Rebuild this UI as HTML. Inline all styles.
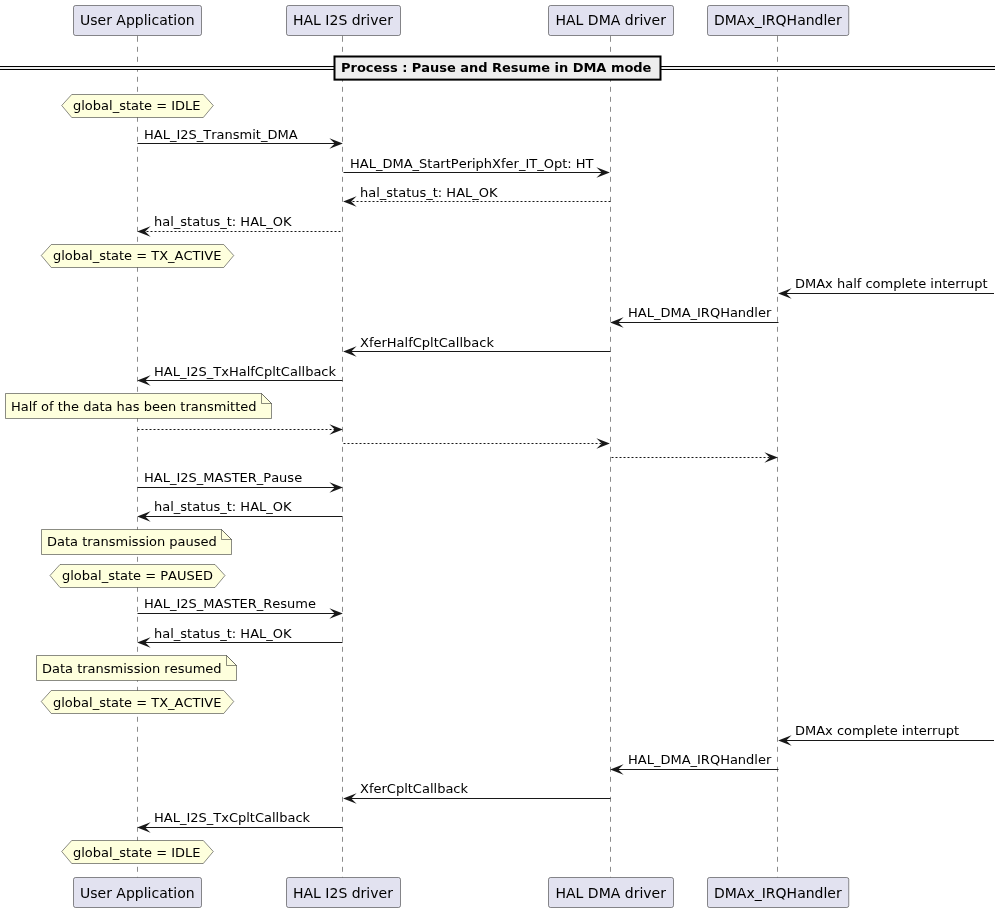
<!DOCTYPE html>
<html><head><meta charset="utf-8"><title>Pause and Resume in DMA mode</title>
<style>
html,body{margin:0;padding:0;background:#fff;}
svg{display:block;will-change:transform;}
svg text{font-family:"DejaVu Sans","Liberation Sans",sans-serif;fill:#000;font-kerning:none;}
</style></head><body>
<svg width="1000" height="912" viewBox="0 0 1000 912">
<rect width="1000" height="912" fill="#fff"/>
<g transform="translate(0.5,0.5)">
<line x1="137" y1="36.2969" x2="137" y2="877" stroke="#181818" stroke-width="0.5" stroke-dasharray="5,5"/>
<line x1="137" y1="35.3" x2="137" y2="36.2969" stroke="#181818" stroke-width="0.5"/>
<line x1="342" y1="36.2969" x2="342" y2="877" stroke="#181818" stroke-width="0.5" stroke-dasharray="5,5"/>
<line x1="342" y1="35.3" x2="342" y2="36.2969" stroke="#181818" stroke-width="0.5"/>
<line x1="610" y1="36.2969" x2="610" y2="877" stroke="#181818" stroke-width="0.5" stroke-dasharray="5,5"/>
<line x1="610" y1="35.3" x2="610" y2="36.2969" stroke="#181818" stroke-width="0.5"/>
<line x1="777" y1="36.2969" x2="777" y2="877" stroke="#181818" stroke-width="0.5" stroke-dasharray="5,5"/>
<line x1="777" y1="35.3" x2="777" y2="36.2969" stroke="#181818" stroke-width="0.5"/>
<rect x="73.0" y="5.0" width="128.00" height="30" rx="2" ry="2" fill="#E2E2F0" stroke="#181818" stroke-width="0.5"/>
<rect x="73.0" y="877" width="128.00" height="30" rx="2" ry="2" fill="#E2E2F0" stroke="#181818" stroke-width="0.5"/>
<rect x="286.0" y="5.0" width="114.00" height="30" rx="2" ry="2" fill="#E2E2F0" stroke="#181818" stroke-width="0.5"/>
<rect x="286.0" y="877" width="114.00" height="30" rx="2" ry="2" fill="#E2E2F0" stroke="#181818" stroke-width="0.5"/>
<rect x="548.0" y="5.0" width="125.00" height="30" rx="2" ry="2" fill="#E2E2F0" stroke="#181818" stroke-width="0.5"/>
<rect x="548.0" y="877" width="125.00" height="30" rx="2" ry="2" fill="#E2E2F0" stroke="#181818" stroke-width="0.5"/>
<rect x="707.0" y="5.0" width="141.25" height="30" rx="2" ry="2" fill="#E2E2F0" stroke="#181818" stroke-width="0.5"/>
<rect x="707.0" y="877" width="141.25" height="30" rx="2" ry="2" fill="#E2E2F0" stroke="#181818" stroke-width="0.5"/>
<rect x="-1" y="66.0" width="995.5" height="3" fill="#EEEEEE"/>
<line x1="-1" y1="66.0" x2="994.5" y2="66.0" stroke="#000" stroke-width="1"/>
<line x1="-1" y1="69.0" x2="994.5" y2="69.0" stroke="#000" stroke-width="1"/>
<rect x="334.0" y="56.0" width="326.00" height="23.13" fill="#EEEEEE" stroke="#000" stroke-width="2"/>
<polygon points="61.23,105.00 71.23,94 202.77,94 212.77,105.00 202.77,117.00 71.23,117.00" fill="#FEFFDD" stroke="#181818" stroke-width="0.5"/>
<polygon points="342.346,143.000 328.924,137.631 334.293,143.000 328.924,148.369" fill="#181818"/>
<line x1="137" y1="143" x2="337" y2="143" stroke="#181818" stroke-width="1"/>
<polygon points="609.346,172.000 595.924,166.631 601.293,172.000 595.924,177.369" fill="#181818"/>
<line x1="343" y1="172" x2="604" y2="172" stroke="#181818" stroke-width="1"/>
<polygon points="342.654,201.000 356.076,195.631 350.707,201.000 356.076,206.369" fill="#181818"/>
<line x1="348" y1="201" x2="610" y2="201" stroke="#181818" stroke-width="1" stroke-dasharray="2,2"/>
<polygon points="136.654,231.000 150.076,225.631 144.707,231.000 150.076,236.369" fill="#181818"/>
<line x1="142" y1="231" x2="342" y2="231" stroke="#181818" stroke-width="1" stroke-dasharray="2,2"/>
<polygon points="40.78,255.00 50.78,244 223.22,244 233.22,255.00 223.22,267.00 50.78,267.00" fill="#FEFFDD" stroke="#181818" stroke-width="0.5"/>
<polygon points="777.654,293.000 791.076,287.631 785.707,293.000 791.076,298.369" fill="#181818"/>
<line x1="783" y1="293" x2="993.5" y2="293" stroke="#181818" stroke-width="1"/>
<polygon points="609.654,322.000 623.076,316.631 617.707,322.000 623.076,327.369" fill="#181818"/>
<line x1="615" y1="322" x2="778" y2="322" stroke="#181818" stroke-width="1"/>
<polygon points="342.654,351.000 356.076,345.631 350.707,351.000 356.076,356.369" fill="#181818"/>
<line x1="348" y1="351" x2="610" y2="351" stroke="#181818" stroke-width="1"/>
<polygon points="136.654,380.000 150.076,374.631 144.707,380.000 150.076,385.369" fill="#181818"/>
<line x1="142" y1="380" x2="342" y2="380" stroke="#181818" stroke-width="1"/>
<path d="M5,393 L5,418 L271,418 L271,403 L261,393 Z" fill="#FEFFDD" stroke="#181818" stroke-width="0.5"/>
<path d="M261,393 L261,403 L271,403 Z" fill="#FEFFDD" stroke="#181818" stroke-width="0.5"/>
<polygon points="342.346,429.000 328.924,423.631 334.293,429.000 328.924,434.369" fill="#181818"/>
<line x1="137" y1="429" x2="337" y2="429" stroke="#181818" stroke-width="1" stroke-dasharray="2,2"/>
<polygon points="609.346,443.000 595.924,437.631 601.293,443.000 595.924,448.369" fill="#181818"/>
<line x1="343" y1="443" x2="604" y2="443" stroke="#181818" stroke-width="1" stroke-dasharray="2,2"/>
<polygon points="777.346,457.000 763.924,451.631 769.293,457.000 763.924,462.369" fill="#181818"/>
<line x1="611" y1="457" x2="772" y2="457" stroke="#181818" stroke-width="1" stroke-dasharray="2,2"/>
<polygon points="342.346,487.000 328.924,481.631 334.293,487.000 328.924,492.369" fill="#181818"/>
<line x1="137" y1="487" x2="337" y2="487" stroke="#181818" stroke-width="1"/>
<polygon points="136.654,516.000 150.076,510.631 144.707,516.000 150.076,521.369" fill="#181818"/>
<line x1="142" y1="516" x2="342" y2="516" stroke="#181818" stroke-width="1"/>
<path d="M41,529 L41,554 L231,554 L231,539 L221,529 Z" fill="#FEFFDD" stroke="#181818" stroke-width="0.5"/>
<path d="M221,529 L221,539 L231,539 Z" fill="#FEFFDD" stroke="#181818" stroke-width="0.5"/>
<polygon points="49.52,575.00 59.52,564 214.48,564 224.48,575.00 214.48,587.00 59.52,587.00" fill="#FEFFDD" stroke="#181818" stroke-width="0.5"/>
<polygon points="342.346,613.000 328.924,607.631 334.293,613.000 328.924,618.369" fill="#181818"/>
<line x1="137" y1="613" x2="337" y2="613" stroke="#181818" stroke-width="1"/>
<polygon points="136.654,642.000 150.076,636.631 144.707,642.000 150.076,647.369" fill="#181818"/>
<line x1="142" y1="642" x2="342" y2="642" stroke="#181818" stroke-width="1"/>
<path d="M36,655 L36,680 L236,680 L236,665 L226,655 Z" fill="#FEFFDD" stroke="#181818" stroke-width="0.5"/>
<path d="M226,655 L226,665 L236,665 Z" fill="#FEFFDD" stroke="#181818" stroke-width="0.5"/>
<polygon points="40.78,701.00 50.78,690 223.22,690 233.22,701.00 223.22,713.00 50.78,713.00" fill="#FEFFDD" stroke="#181818" stroke-width="0.5"/>
<polygon points="777.654,740.000 791.076,734.631 785.707,740.000 791.076,745.369" fill="#181818"/>
<line x1="783" y1="740" x2="993.5" y2="740" stroke="#181818" stroke-width="1"/>
<polygon points="609.654,769.000 623.076,763.631 617.707,769.000 623.076,774.369" fill="#181818"/>
<line x1="615" y1="769" x2="778" y2="769" stroke="#181818" stroke-width="1"/>
<polygon points="342.654,798.000 356.076,792.631 350.707,798.000 356.076,803.369" fill="#181818"/>
<line x1="348" y1="798" x2="610" y2="798" stroke="#181818" stroke-width="1"/>
<polygon points="136.654,827.000 150.076,821.631 144.707,827.000 150.076,832.369" fill="#181818"/>
<line x1="142" y1="827" x2="342" y2="827" stroke="#181818" stroke-width="1"/>
<polygon points="61.23,851.00 71.23,840 202.77,840 212.77,851.00 202.77,863.00 71.23,863.00" fill="#FEFFDD" stroke="#181818" stroke-width="0.5"/>
</g>
<text x="80.0" y="25" font-size="14">User Application</text>
<text x="80.0" y="898" font-size="14">User Application</text>
<text x="293" y="25" font-size="14">HAL I2S driver</text>
<text x="293" y="898" font-size="14">HAL I2S driver</text>
<text x="555.5" y="25" font-size="14">HAL DMA driver</text>
<text x="555.5" y="898" font-size="14">HAL DMA driver</text>
<text x="714" y="25" font-size="14">DMAx_IRQHandler</text>
<text x="714" y="898" font-size="14">DMAx_IRQHandler</text>
<text x="341.0" y="72.07" font-size="13" font-weight="bold" textLength="310.4" lengthAdjust="spacing">Process : Pause and Resume in DMA mode</text>
<text x="73" y="110" font-size="13">global_state = IDLE</text>
<text x="144" y="139" font-size="13">HAL_I2S_Transmit_DMA</text>
<text x="350" y="168" font-size="13">HAL_DMA_StartPeriphXfer_IT_Opt: HT</text>
<text x="360" y="197" font-size="13">hal_status_t: HAL_OK</text>
<text x="154" y="226" font-size="13">hal_status_t: HAL_OK</text>
<text x="53" y="260" font-size="13">global_state = TX_ACTIVE</text>
<text x="795" y="288" font-size="13">DMAx half complete interrupt</text>
<text x="628" y="317" font-size="13">HAL_DMA_IRQHandler</text>
<text x="360" y="347" font-size="13">XferHalfCpltCallback</text>
<text x="154" y="376" font-size="13">HAL_I2S_TxHalfCpltCallback</text>
<text x="11" y="411" font-size="13">Half of the data has been transmitted</text>
<text x="144" y="482" font-size="13">HAL_I2S_MASTER_Pause</text>
<text x="154" y="511" font-size="13">hal_status_t: HAL_OK</text>
<text x="47" y="546" font-size="13">Data transmission paused</text>
<text x="62" y="580" font-size="13">global_state = PAUSED</text>
<text x="144" y="608" font-size="13">HAL_I2S_MASTER_Resume</text>
<text x="154" y="638" font-size="13">hal_status_t: HAL_OK</text>
<text x="42" y="673" font-size="13">Data transmission resumed</text>
<text x="53" y="707" font-size="13">global_state = TX_ACTIVE</text>
<text x="795" y="735" font-size="13">DMAx complete interrupt</text>
<text x="628" y="764" font-size="13">HAL_DMA_IRQHandler</text>
<text x="360" y="793" font-size="13">XferCpltCallback</text>
<text x="154" y="822" font-size="13">HAL_I2S_TxCpltCallback</text>
<text x="73" y="857" font-size="13">global_state = IDLE</text>
</svg>
</body></html>
